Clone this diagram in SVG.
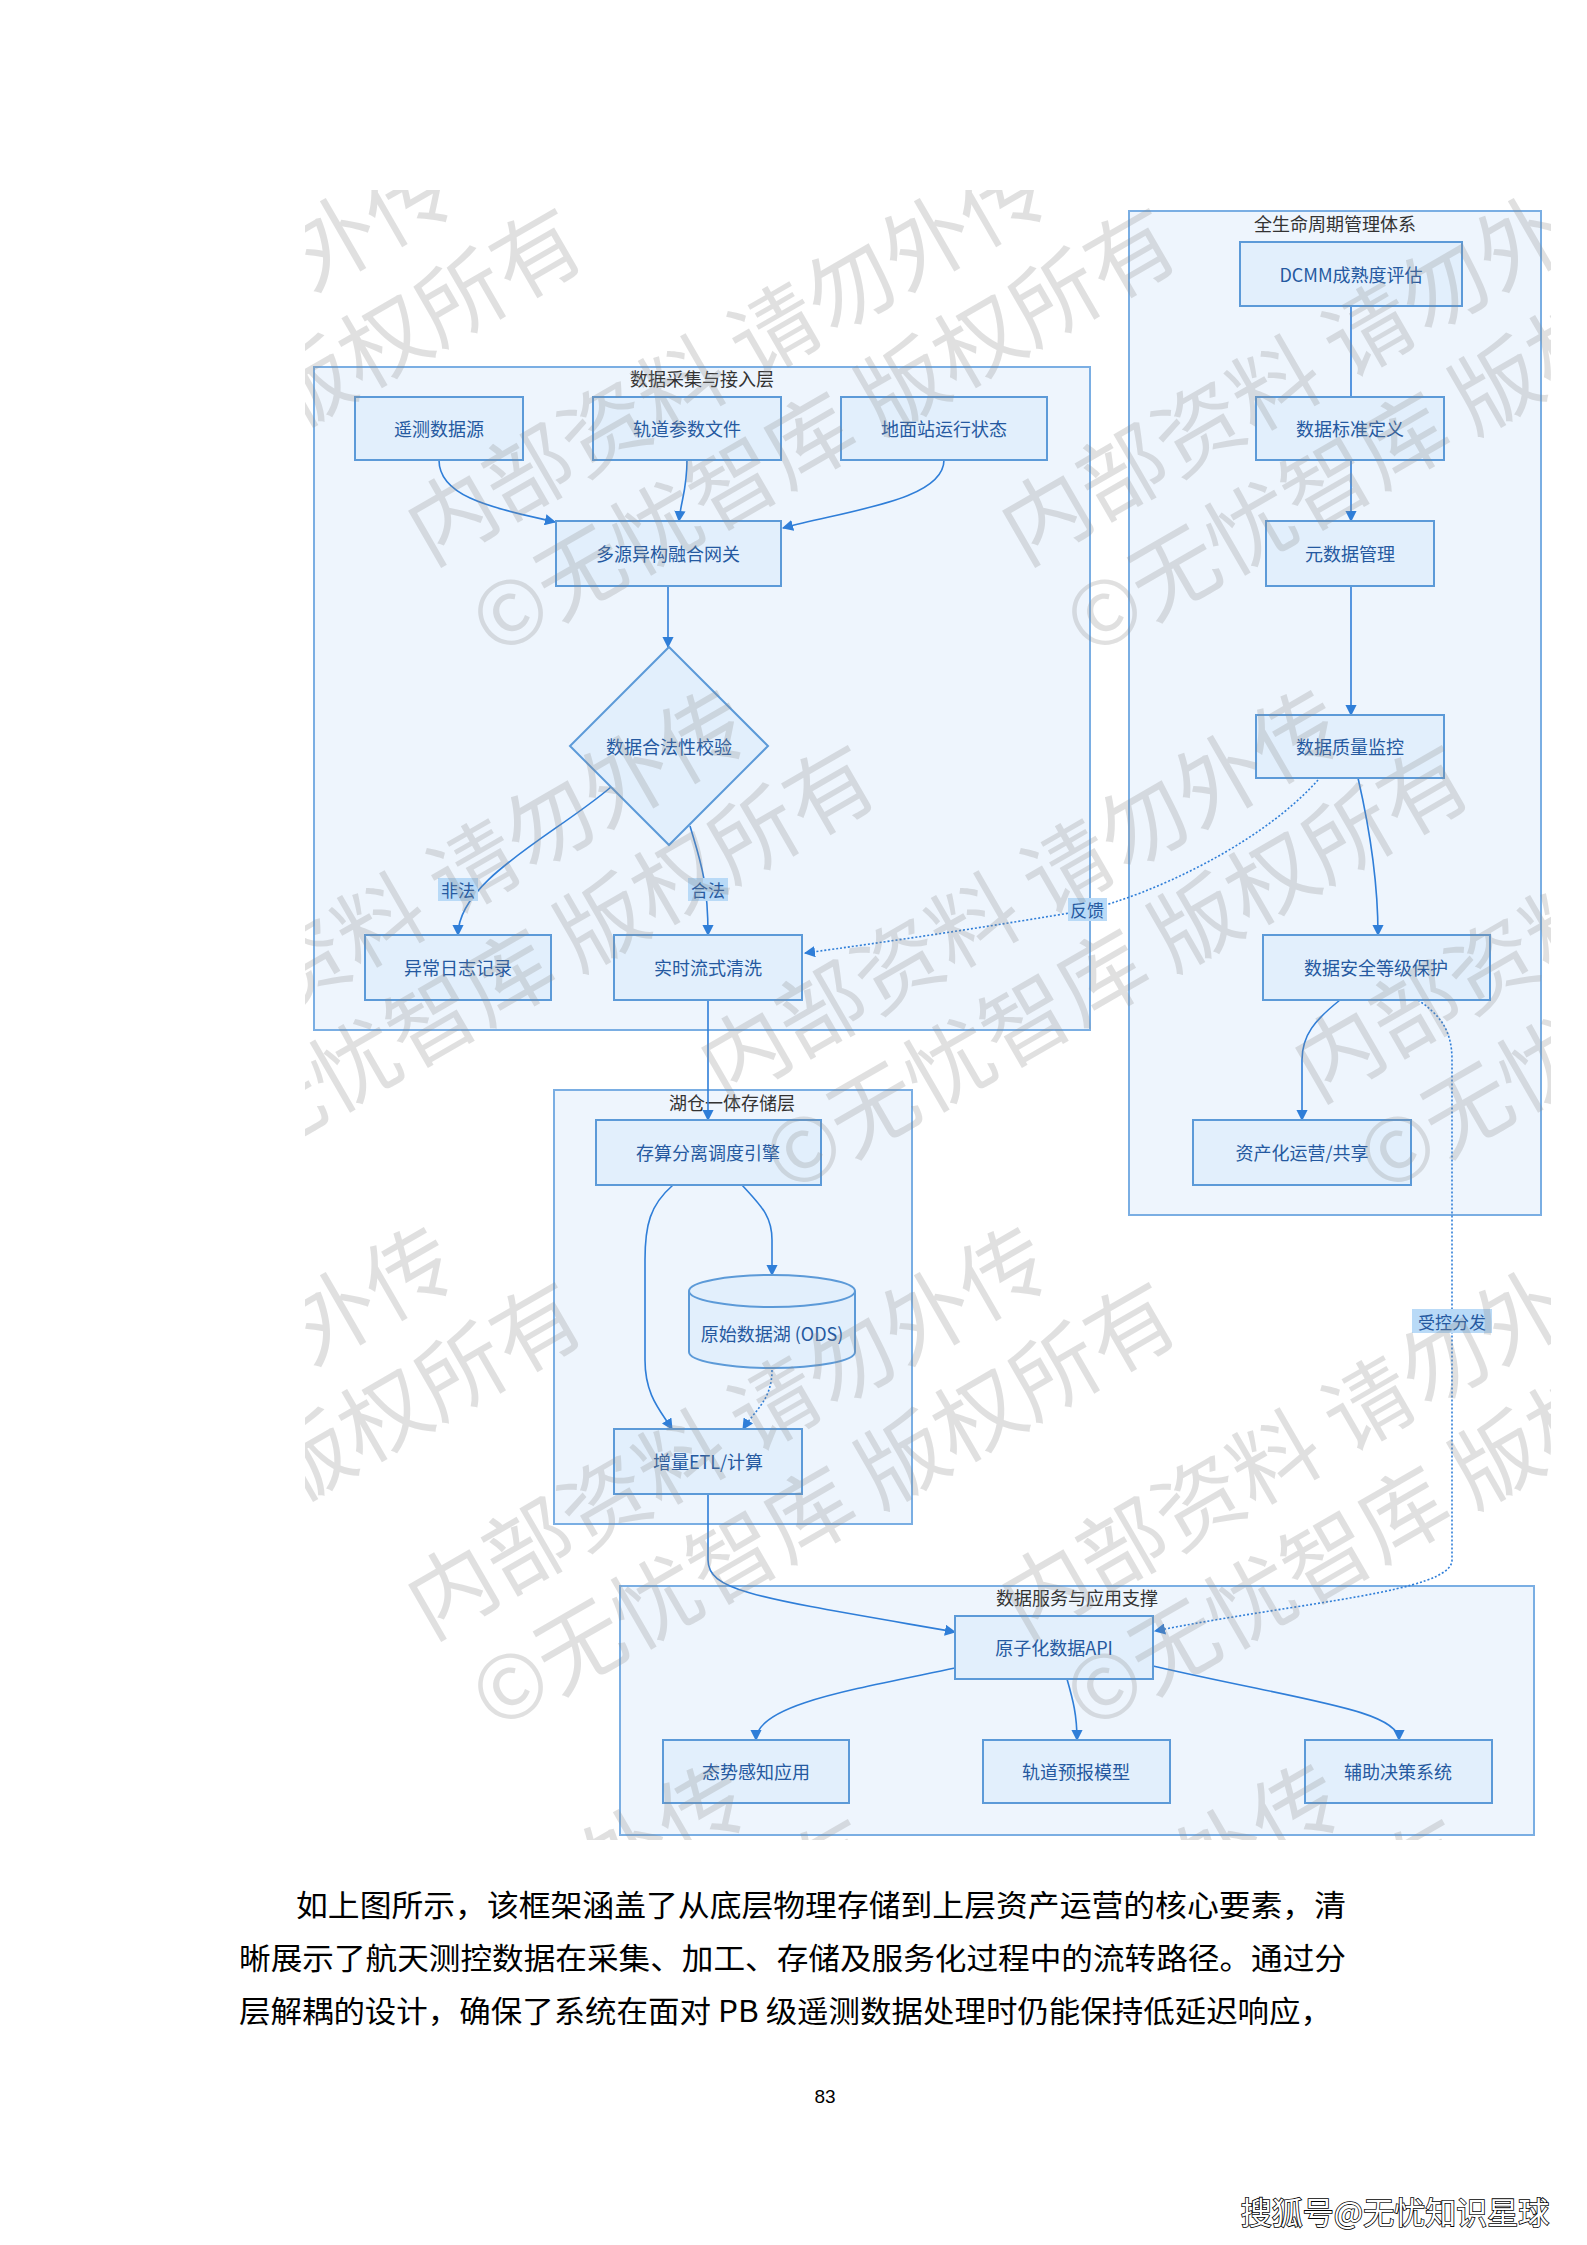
<svg xmlns="http://www.w3.org/2000/svg" width="1587" height="2245" viewBox="0 0 1587 2245">
<defs>
<style>
.cl{fill:#eef5fd;stroke:#7aaee3;stroke-width:2}
.ct{font-family:"Noto Sans CJK SC",sans-serif;font-size:18px;fill:#333;text-anchor:middle}
.nd{fill:#e2effc;stroke:#5c9ad8;stroke-width:2}
.nt{font-family:"Noto Sans CJK SC",sans-serif;font-size:18px;fill:#2559a0;text-anchor:middle;dominant-baseline:central}
.e{fill:none;stroke:#2f7ed8;stroke-width:1.6}
.d{stroke-dasharray:2 2}
.lb{fill:#b9daf7}
.lt{font-family:"Noto Sans CJK SC",sans-serif;font-size:17px;fill:#2559a0;text-anchor:middle;dominant-baseline:central}
.wm{font-family:"Noto Sans CJK SC",sans-serif;font-size:88px;fill:#8c8c8c;opacity:0.26}
.body{font-family:"Noto Sans CJK SC",sans-serif;font-size:30px;fill:#000}
</style>
<marker id="ar" viewBox="0 0 10 10" refX="9" refY="5" markerWidth="7" markerHeight="7" orient="auto"><path d="M0,0 L10,5 L0,10 z" fill="#2f7ed8"/></marker>
<clipPath id="wmclip"><rect x="305" y="190" width="1246" height="1650"/></clipPath>
<g id="wmt" transform="rotate(-30)"><text class="wm" x="0" y="0">内部资料 请勿外传</text><text class="wm" x="10" y="112">©无忧智库 版权所有</text></g>
</defs>
<rect x="0" y="0" width="1587" height="2245" fill="#ffffff"/>

<g id="clusters">
<g id="c1"><rect class="cl" x="314" y="367" width="776" height="663"/><text class="ct" x="702" y="386">数据采集与接入层</text></g>
<g id="c2"><rect class="cl" x="1129" y="211" width="412" height="1004"/><text class="ct" x="1335" y="231">全生命周期管理体系</text></g>
<g id="c3"><rect class="cl" x="554" y="1090" width="358" height="434"/><text class="ct" x="732" y="1110">湖仓一体存储层</text></g>
<g id="c4"><rect class="cl" x="620" y="1586" width="914" height="249"/><text class="ct" x="1077" y="1605">数据服务与应用支撑</text></g>
</g>

<g id="connectors">
<path class="e" marker-end="url(#ar)" d="M439,460 C439,498 495,508 555,522"/>
<path class="e" marker-end="url(#ar)" d="M687,460 C687,490 681,500 679,521"/>
<path class="e" marker-end="url(#ar)" d="M944,460 C944,500 850,510 783,528"/>
<path class="e" marker-end="url(#ar)" d="M668,586 L668,647"/>
<path class="e" marker-end="url(#ar)" d="M611,787 C555,835 458,880 458,935"/>
<path class="e" marker-end="url(#ar)" d="M690,826 C700,860 708,880 708,935"/>
<path class="e" marker-end="url(#ar)" d="M708,1000 L708,1120"/>
<path class="e" marker-end="url(#ar)" d="M673,1185 C650,1205 645,1225 645,1260 L645,1360 C645,1395 660,1410 672,1429"/>
<path class="e" marker-end="url(#ar)" d="M742,1185 C760,1205 772,1215 772,1240 L772,1275"/>
<path class="e d" marker-end="url(#ar)" d="M772,1370 C772,1400 755,1410 743,1429"/>
<path class="e" marker-end="url(#ar)" d="M708,1494 L708,1560 C708,1592 760,1598 955,1632"/>
<path class="e" d="M1351,305 L1351,397"/>
<path class="e" marker-end="url(#ar)" d="M1351,460 L1351,521"/>
<path class="e" marker-end="url(#ar)" d="M1351,586 L1351,715"/>
<path class="e" marker-end="url(#ar)" d="M1358,778 C1370,830 1378,880 1378,935"/>
<path class="e" marker-end="url(#ar)" d="M1340,1000 C1315,1020 1302,1035 1302,1060 L1302,1120"/>
<path class="e d" marker-end="url(#ar)" d="M1318,780 C1260,845 1150,895 1087,910 C1000,925 880,943 805,953"/>
<path class="e d" marker-end="url(#ar)" d="M1418,1000 C1440,1015 1452,1030 1452,1060 L1452,1560 C1452,1592 1300,1602 1155,1631"/>
<path class="e" marker-end="url(#ar)" d="M955,1668 C850,1690 756,1705 756,1740"/>
<path class="e" marker-end="url(#ar)" d="M1067,1679 C1073,1700 1077,1715 1077,1740"/>
<path class="e" marker-end="url(#ar)" d="M1153,1666 C1300,1700 1399,1710 1399,1740"/>
</g>

<g id="nodes">
<g id="n1"><rect class="nd" x="355" y="397" width="168" height="63"/><text class="nt" x="439" y="428">遥测数据源</text></g>
<g id="n2"><rect class="nd" x="593" y="397" width="188" height="63"/><text class="nt" x="687" y="428">轨道参数文件</text></g>
<g id="n3"><rect class="nd" x="841" y="397" width="206" height="63"/><text class="nt" x="944" y="428">地面站运行状态</text></g>
<g id="n4"><rect class="nd" x="556" y="521" width="225" height="65"/><text class="nt" x="668" y="553">多源异构融合网关</text></g>
<g id="n5"><polygon class="nd" points="669,647 768,746 669,845 570,746"/><text class="nt" x="669" y="746">数据合法性校验</text></g>
<g id="n6"><rect class="nd" x="365" y="935" width="186" height="65"/><text class="nt" x="458" y="967">异常日志记录</text></g>
<g id="n7"><rect class="nd" x="614" y="935" width="188" height="65"/><text class="nt" x="708" y="967">实时流式清洗</text></g>
<g id="m1"><rect class="nd" x="1240" y="242" width="222" height="64"/><text class="nt" x="1351" y="274">DCMM成熟度评估</text></g>
<g id="m2"><rect class="nd" x="1256" y="397" width="188" height="63"/><text class="nt" x="1350" y="428">数据标准定义</text></g>
<g id="m3"><rect class="nd" x="1266" y="521" width="168" height="65"/><text class="nt" x="1350" y="553">元数据管理</text></g>
<g id="m4"><rect class="nd" x="1256" y="715" width="188" height="63"/><text class="nt" x="1350" y="746">数据质量监控</text></g>
<g id="m5"><rect class="nd" x="1263" y="935" width="227" height="65"/><text class="nt" x="1376" y="967">数据安全等级保护</text></g>
<g id="m6"><rect class="nd" x="1193" y="1120" width="218" height="65"/><text class="nt" x="1302" y="1152">资产化运营/共享</text></g>
<g id="s1"><rect class="nd" x="596" y="1120" width="225" height="65"/><text class="nt" x="708" y="1152">存算分离调度引擎</text></g>
<g id="s2"><path class="nd" d="M689,1291 A83,16 0 0 1 855,1291 L855,1352 A83,16 0 0 1 689,1352 Z"/><path class="nd" style="fill:none" d="M689,1291 A83,16 0 0 0 855,1291"/><text class="nt" x="772" y="1333">原始数据湖 (ODS)</text></g>
<g id="s3"><rect class="nd" x="614" y="1429" width="188" height="65"/><text class="nt" x="708" y="1461">增量ETL/计算</text></g>
<g id="a1"><rect class="nd" x="955" y="1616" width="198" height="63"/><text class="nt" x="1054" y="1647">原子化数据API</text></g>
<g id="a2"><rect class="nd" x="663" y="1740" width="186" height="63"/><text class="nt" x="756" y="1771">态势感知应用</text></g>
<g id="a3"><rect class="nd" x="983" y="1740" width="187" height="63"/><text class="nt" x="1076" y="1771">轨道预报模型</text></g>
<g id="a4"><rect class="nd" x="1305" y="1740" width="187" height="63"/><text class="nt" x="1398" y="1771">辅助决策系统</text></g>
</g>

<g id="edge-labels">
<rect class="lb" x="438" y="878" width="40" height="23"/><text class="lt" x="458" y="889">非法</text>
<rect class="lb" x="688" y="878" width="40" height="23"/><text class="lt" x="708" y="889">合法</text>
<rect class="lb" x="1068" y="898" width="39" height="23"/><text class="lt" x="1087" y="909">反馈</text>
<rect class="lb" x="1412" y="1309" width="80" height="24"/><text class="lt" x="1452" y="1321">受控分发</text>
</g>

<g id="watermark" clip-path="url(#wmclip)">
<use href="#wmt" transform="translate(-164,566)"/>
<use href="#wmt" transform="translate(430,566)"/>
<use href="#wmt" transform="translate(1024,566)"/>
<use href="#wmt" transform="translate(129,1103)"/>
<use href="#wmt" transform="translate(723,1103)"/>
<use href="#wmt" transform="translate(1317,1103)"/>
<use href="#wmt" transform="translate(-164,1640)"/>
<use href="#wmt" transform="translate(430,1640)"/>
<use href="#wmt" transform="translate(1024,1640)"/>
<use href="#wmt" transform="translate(129,2177)"/>
<use href="#wmt" transform="translate(723,2177)"/>
<use href="#wmt" transform="translate(1317,2177)"/>
</g>

<g id="body-text">
<text class="body" x="296" y="1916" textLength="1050" lengthAdjust="spacingAndGlyphs">如上图所示，该框架涵盖了从底层物理存储到上层资产运营的核心要素，清</text>
<text class="body" x="239" y="1969" textLength="1107" lengthAdjust="spacingAndGlyphs">晰展示了航天测控数据在采集、加工、存储及服务化过程中的流转路径。通过分</text>
<text class="body" x="239" y="2022" textLength="1093" lengthAdjust="spacingAndGlyphs">层解耦的设计，确保了系统在面对 PB 级遥测数据处理时仍能保持低延迟响应，</text>
<text x="825" y="2103" style="font-family:'Liberation Sans',sans-serif;font-size:19px;fill:#000;text-anchor:middle">83</text>
<text x="1395" y="2224" style="font-family:'Noto Sans CJK SC',sans-serif;font-size:31px;fill:#fff;stroke:#000;stroke-width:1.6;paint-order:stroke;text-anchor:middle">搜狐号@无忧知识星球</text>
</g>
</svg>
